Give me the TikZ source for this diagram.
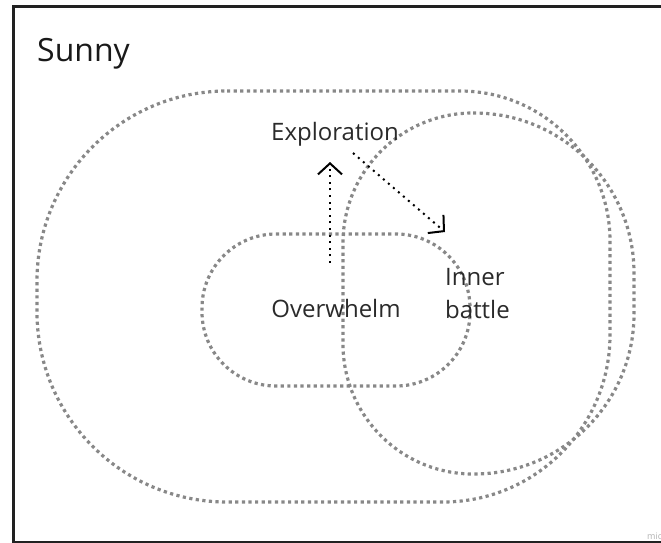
\documentclass[tikz,border=0pt]{standalone}
\usepackage{fontspec}
\setmainfont{Open Sans}
\usetikzlibrary{arrows.meta}
\definecolor{dotgray}{HTML}{888888}
\definecolor{txt}{HTML}{2A2A2A}
\tikzset{
  region/.style={draw=dotgray, line width=3.2pt, dash pattern=on 3.2pt off 3.4pt},
  lbl/.style={text=txt, font=\fontsize{24}{33}\selectfont, inner sep=0pt},
  flow/.style={line width=2pt, dash pattern=on 2pt off 4.6pt, -{Straight Barb[length=11pt,width=24pt,line width=2pt]}}
}
\begin{document}
\begin{tikzpicture}[x=1pt,y=-1pt]
\useasboundingbox (0,0) rectangle (661,542);
\node[draw=black!87, line width=2.5pt, rectangle, inner sep=0pt, minimum width=670pt, minimum height=536pt, anchor=north west] (frame) at (12,5) {};
\node[anchor=west, text=black!90, font=\fontsize{32}{38}\selectfont, inner sep=0pt] (title) at (37,54) {Sunny};
% outer region
\draw[region] (227,91) -- (460,91) arc[start angle=90,end angle=0,radius=150pt]
  -- (610,335) arc[start angle=0,end angle=-90,radius=167pt]
  -- (227,502) arc[start angle=-90,end angle=-180,radius=190pt]
  -- (37,281) arc[start angle=180,end angle=90,radius=190pt] -- cycle;
% right region
\draw[region] (473,113) -- (474,113) arc[start angle=90,end angle=0,radius=160pt]
  -- (634,314) arc[start angle=0,end angle=-90,radius=160pt]
  -- (473,474) arc[start angle=-90,end angle=-180,radius=130pt]
  -- (343,243) arc[start angle=180,end angle=90,radius=130pt] -- cycle;
% inner region
\draw[region] (276,234) -- (396,234) arc[start angle=90,end angle=0,radius=74pt]
  -- (470,312) arc[start angle=0,end angle=-90,radius=74pt]
  -- (276,386) arc[start angle=-90,end angle=-180,radius=74pt]
  -- (202,308) arc[start angle=180,end angle=90,radius=74pt] -- cycle;
\node[lbl] (expl) at (335,134) {Exploration};
\node[lbl] (over) at (336,308) {Overwhelm};
\node[lbl, align=left, anchor=west] (battle) at (445,294) {Inner\\battle};
\coordinate (a1s) at (330,263);
\coordinate (a1e) at (330,162);
\coordinate (a2s) at (353,153);
\coordinate (a2e) at (445,232);
\draw[flow] (a1s) -- (a1e);
\draw[flow] (a2s) -- (a2e);
\node[anchor=west, text=black!30, font=\fontsize{9}{10}\selectfont, inner sep=0pt] (wm) at (647,536) {mic};
\end{tikzpicture}
\end{document}
